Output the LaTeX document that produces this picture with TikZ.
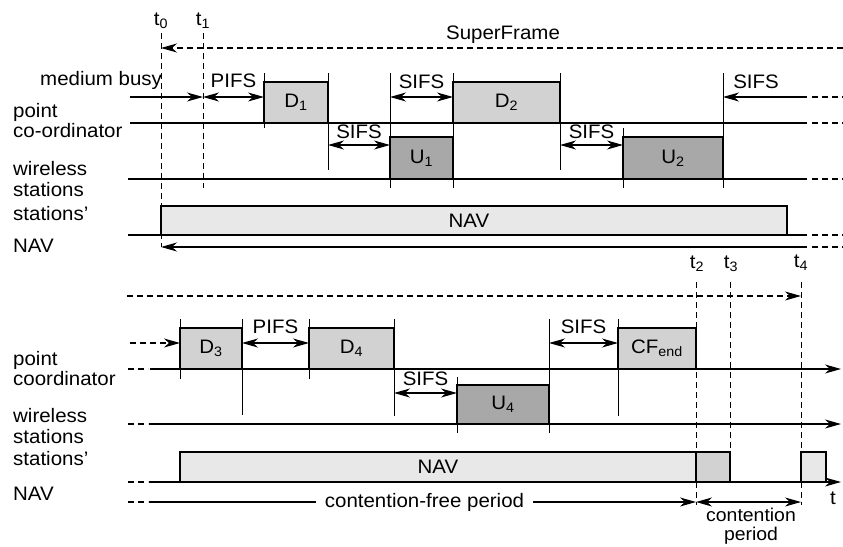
\documentclass[tikz,border=0pt]{standalone}
\usepackage{fontspec}
\setmainfont{Liberation Sans}[FakeStretch=1.05]
\usetikzlibrary{arrows.meta, positioning}

\begin{document}
\begin{tikzpicture}[
    x=1pt, y=-1pt,
    font=\fontsize{19.5pt}{20pt}\selectfont,
    frame/.style={draw, line width=2.3pt, fill=gray!35, inner sep=0pt, outer sep=0pt, anchor=north west},
    upframe/.style={frame, fill=gray!68},
    navframe/.style={frame, fill=gray!18},
    tick/.style={line width=1pt},
    timeline/.style={line width=1pt, dash pattern=on 6pt off 4pt},
    axis/.style={line width=1.1pt},
    stub/.style={line width=1.1pt, dash pattern=on 6pt off 4pt},
    arrow/.style={line width=1.1pt, -{Stealth[length=16pt, width=9pt, inset=5pt]}},
    dblarrow/.style={line width=1.1pt, {Stealth[length=16pt, width=9pt, inset=5pt]}-{Stealth[length=16pt, width=9pt, inset=5pt]}},
    rowlabel/.style={anchor=base west, inner sep=0pt},
    gap/.style={anchor=base, inner sep=0pt}
]
    \useasboundingbox (0,0) rectangle (843,546);

    % Time marks
    \coordinate (t0) at (161,33);
    \coordinate (t1) at (203,33);
    \coordinate (t2) at (696,282);
    \coordinate (t3) at (730,282);
    \coordinate (t4) at (801,282);
    \coordinate (rend) at (841,0);
    \node[gap] (lt0) at (161,25) {t\textsubscript{0}};
    \node[gap] (lt1) at (203,25) {t\textsubscript{1}};
    \node[gap] (lt2) at (697,268) {t\textsubscript{2}};
    \node[gap] (lt3) at (731,268) {t\textsubscript{3}};
    \node[gap] (lt4) at (801,267) {t\textsubscript{4}};
    \draw[timeline] (t0) -- ++(0,214);
    \draw[timeline] (t1) -- ++(0,155);
    \draw[timeline] (t2) -- ++(0,223);
    \draw[timeline] (t3) -- ++(0,170);
    \draw[timeline] (t4) -- ++(0,223);

    % Row labels
    \node[rowlabel] (lmb) at (40,85) {medium busy};
    \node[rowlabel] (lpc1) at (13,117) {point};
    \node[rowlabel] (lpc2) at (13,137) {co-ordinator};
    \node[rowlabel] (lws1) at (13,175) {wireless};
    \node[rowlabel] (lws2) at (13,196) {stations};
    \node[rowlabel] (lnav1) at (13,220) {stations'};
    \node[rowlabel] (lnav2) at (13,252) {NAV};
    \node[rowlabel] (lpc3) at (13,365) {point};
    \node[rowlabel] (lpc4) at (13,385) {coordinator};
    \node[rowlabel] (lws3) at (13,422) {wireless};
    \node[rowlabel] (lws4) at (13,443) {stations};
    \node[rowlabel] (lnav3) at (13,465) {stations'};
    \node[rowlabel] (lnav4) at (13,500) {NAV};

    % Upper part: lines
    \coordinate (sf) at (843,48);
    \coordinate (mb) at (130,97);
    \coordinate (mbr) at (807,97);
    \coordinate (sa) at (0,145);
    \node[gap] (lsf) at (503,39) {SuperFrame};
    \draw[stub, -{Stealth[length=16pt, width=9pt, inset=5pt]}] (sf) -- (sf -| t0);
    \draw[axis] (130,123) -- (807,123);
    \draw[axis] (128,179) -- (807,179);
    \draw[axis] (128,235) -- (807,235);
    \draw[arrow] (807,247) -- (161,247);
    \foreach \y in {97,123,179,235,247}
        \draw[stub] (812,\y) -- (843,\y);

    % Upper part: ticks
    \foreach \x/\a/\b in {264/73/128, 328/73/170, 390/73/188, 453/73/188, 560/73/170, 623/128/188, 723/73/188}
        \draw[tick] (\x,\a) -- (\x,\b);

    % Upper part: frames
    \node[frame, minimum width=64pt, minimum height=41pt] (d1) at (264,82) {D\textsubscript{1}};
    \node[upframe, minimum width=63pt, minimum height=42pt] (u1) at (390,137) {U\textsubscript{1}};
    \node[frame, minimum width=107pt, minimum height=41pt] (d2) at (453,82) {D\textsubscript{2}};
    \node[upframe, minimum width=100pt, minimum height=42pt] (u2) at (623,137) {U\textsubscript{2}};
    \node[navframe, minimum width=626pt, minimum height=29pt] (nav1) at (161,206) {};
    \node (lnav) at (469,220.5) {NAV};

    % Upper part: gaps
    \draw[arrow] (mb) -- (mb -| t1);
    \draw[dblarrow] (mb -| t1) -- (mb -| d1.west) node[gap, midway, yshift=10pt] (lpifs1) {PIFS};
    \draw[dblarrow] (sa -| d1.east) -- (sa -| u1.west) node[gap, midway, yshift=7pt] (lsifs1) {SIFS};
    \draw[dblarrow] (mb -| u1.west) -- (mb -| d2.west) node[gap, midway, yshift=9pt] (lsifs2) {SIFS};
    \draw[dblarrow] (sa -| d2.east) -- (sa -| u2.west) node[gap, midway, yshift=7pt] (lsifs3) {SIFS};
    \draw[arrow] (mbr) -- (mbr -| u2.east);
    \node[gap] (lsifs4) at (756,88) {SIFS};

    % Lower part: lines
    \coordinate (cf) at (127,296);
    \coordinate (dr) at (130,343);
    \coordinate (ur) at (0,393);
    \coordinate (pcl) at (150,369);
    \coordinate (wsl) at (149,424);
    \coordinate (nvl) at (149,482);
    \coordinate (bl) at (149,502);
    \draw[stub, -{Stealth[length=16pt, width=9pt, inset=5pt]}] (cf) -- (cf -| t4);
    \foreach \y in {369,424,482,502}
        \draw[stub] (128,\y) -- (148,\y);
    \draw[arrow] (pcl) -- (pcl -| rend);
    \draw[arrow] (wsl) -- (wsl -| rend);
    \draw[arrow] (nvl) -- (nvl -| rend);
    \node[gap, inner xsep=9pt] (cfp) at (424.5,507) {contention-free period};
    \draw[axis] (bl) -- (bl -| cfp.west);
    \draw[arrow] (bl -| cfp.east) -- (bl -| t2);
    \draw[dblarrow] (bl -| t2) -- (bl -| t4);
    \node[anchor=north, inner sep=0pt, align=center, font=\fontsize{18.5pt}{19pt}\selectfont] (lcp) at (751,508) {contention\\period};
    \node[gap] (lt) at (833,504) {t};

    % Lower part: ticks
    \foreach \x/\a/\b in {180/319/379, 242/319/415, 309/319/379, 394/319/416, 457/377/433, 549/319/433, 618/319/416}
        \draw[tick] (\x,\a) -- (\x,\b);

    % Lower part: frames
    \node[frame, minimum width=62pt, minimum height=41pt] (d3) at (180,328) {D\textsubscript{3}};
    \node[frame, minimum width=85pt, minimum height=41pt] (d4) at (309,328) {D\textsubscript{4}};
    \node[upframe, minimum width=92pt, minimum height=39pt] (u4) at (457,385) {U\textsubscript{4}};
    \node[frame, minimum width=78pt, minimum height=41pt] (cfend) at (618,328) {CF\textsubscript{end}};
    \node[navframe, minimum width=516pt, minimum height=30pt] (nav2) at (180,452) {NAV};
    \node[frame, minimum width=34pt, minimum height=30pt] (cp1) at (696,452) {};
    \node[navframe, minimum width=25pt, minimum height=30pt] (cp2) at (801,452) {};

    % Lower part: gaps
    \draw[stub, -{Stealth[length=16pt, width=9pt, inset=5pt]}] (dr) -- (dr -| d3.west);
    \draw[dblarrow] (dr -| d3.east) -- (dr -| d4.west) node[gap, midway, yshift=10pt] (lpifs2) {PIFS};
    \draw[dblarrow] (ur -| d4.east) -- (ur -| u4.west) node[gap, midway, yshift=8pt] (lsifs5) {SIFS};
    \draw[dblarrow] (dr -| u4.east) -- (dr -| cfend.west) node[gap, midway, yshift=10pt] (lsifs6) {SIFS};
\end{tikzpicture}
\end{document}
